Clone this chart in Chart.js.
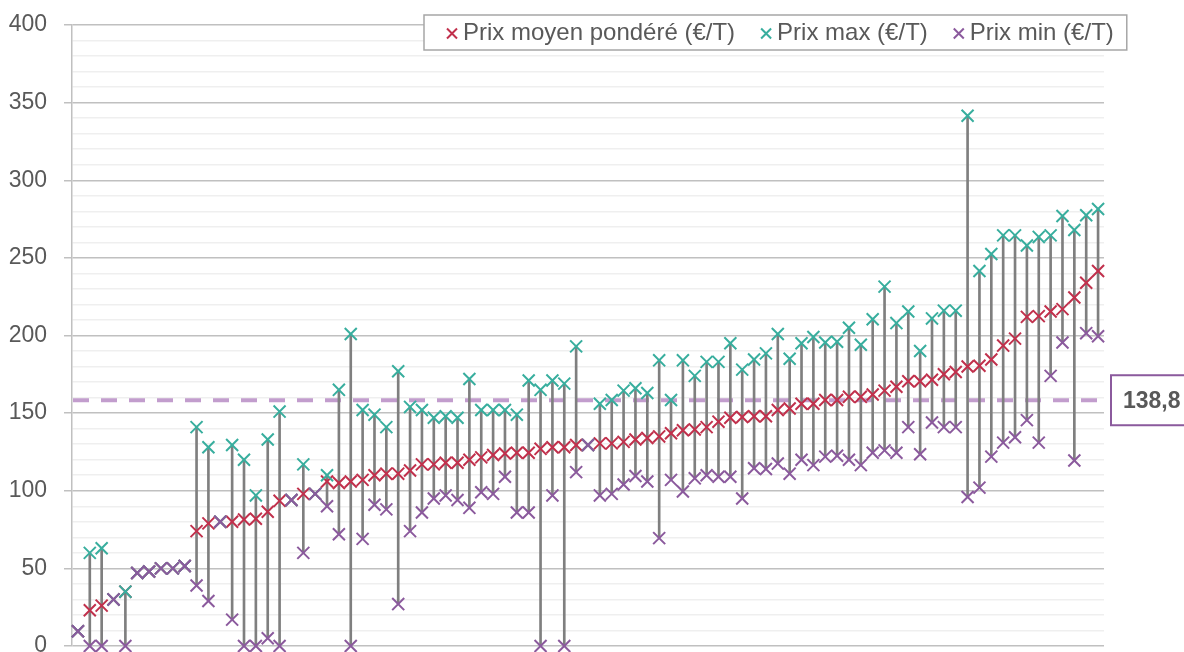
<!DOCTYPE html>
<html lang="fr">
<head>
<meta charset="utf-8">
<title>Prix moyen pondéré, prix max et prix min (€/T)</title>
<script src="https://cdn.jsdelivr.net/npm/chart.js@4.4.1/dist/chart.umd.min.js"></script>
<style>
  html, body { margin: 0; padding: 0; background: #fff; }
  #wrap { position: relative; width: 1184px; height: 652px; }
</style>
</head>
<body>
<div id="wrap"><canvas id="prixChart" width="1184" height="652"></canvas></div>
<script>
// Values, one entry per site (87 sites, sorted by average price)
const avgPrice = [
  9.5, 23, 26, 30, 35, 47, 48, 50, 50, 51.5,
  74, 79, 80, 80, 81.5, 82, 86.5, 93.5, 94, 98,
  98, 106, 105, 106, 107, 110, 111, 111, 113, 117,
  117, 118, 118, 120, 121.5, 123, 124, 124.5, 124.5, 127,
  128, 128, 129.5, 129.5, 130.5, 130.5, 131.5, 133, 134, 135,
  137, 139, 139.5, 141, 144.5, 147, 147.5, 148, 148, 152,
  153, 156, 156, 158.5, 158.5, 160.5, 160.5, 162, 164.5, 167,
  170.5, 170.5, 171.5, 175, 176.5, 180, 180.5, 184.5, 193.5, 198,
  212, 212.5, 215.5, 217, 224.5, 234, 241.5
];
const maxPrice = [
  9.5, 60, 63, 30, 35, 47, 48, 50, 50, 51.5,
  141, 128, 80, 129.5, 120, 97, 133, 151, 94, 117,
  98, 110, 165, 201, 152, 149, 141, 177, 154, 152,
  147, 148, 147, 172, 152, 152, 152, 149, 171, 165,
  171, 169, 193, 129.5, 156, 158.5, 164.5, 166, 163, 184,
  158.5, 184, 174, 183, 183, 195, 178, 184.5, 188.5, 201,
  185, 195, 199, 195.5, 196, 205, 194, 210.5, 231.5, 208,
  215.5, 190, 211, 216, 216, 341.5, 241.5, 252.5, 264.5, 264.5,
  258, 263.5, 264.5, 277, 268, 277.5, 281.5
];
const minPrice = [
  9.5, 0, 0, 30, 0, 47, 48, 50, 50, 51.5,
  39, 29, 80, 17, 0, 0, 5, 0, 94, 60,
  98, 90, 72, 0, 69, 91, 88, 27, 74, 86,
  95, 97, 94, 89, 99, 98, 109, 86, 86, 0,
  97, 0, 112, 129.5, 97, 98, 104, 109.5, 106, 69.5,
  107, 99.5, 108, 110, 109, 109, 95, 114.5, 114, 117.5,
  111, 120, 116.5, 122, 122.5, 120, 116.5, 124.5, 126, 124.5,
  141, 123.5, 144, 141, 141, 96, 102, 122, 131, 134.5,
  145.5, 131, 174, 195.5, 119.5, 201.5, 199.5
];
const categories = avgPrice.map((_, i) => String(i + 1));
const seriesLabels = ['Prix moyen pondéré (€/T)', 'Prix max (€/T)', 'Prix min (€/T)'];
const yTicks = [0, 50, 100, 150, 200, 250, 300, 350, 400];
const refValue = 158.3;
const refLabel = '138,8';

const RED = '#C1304C';
const TEAL = '#38AE9E';
const PURPLE = '#8B5A9D';
const MAJOR = '#C0C0C0';
const MINOR = '#EFEFEF';
const TEXT = '#595959';
const FONT = '"Liberation Sans", Arial, sans-serif';

function drawCross(ctx, x, y, r) {
  ctx.beginPath();
  ctx.moveTo(x - r, y - r); ctx.lineTo(x + r, y + r);
  ctx.moveTo(x + r, y - r); ctx.lineTo(x - r, y + r);
  ctx.stroke();
}

// dashed reference line, under the markers, plus its boxed label
const refLinePlugin = {
  id: 'refLine',
  beforeDatasetsDraw(chart) {
    const { ctx, chartArea } = chart;
    const y = chart.scales.y.getPixelForValue(refValue);
    ctx.save();
    ctx.strokeStyle = '#C29DCD';
    ctx.lineWidth = 4;
    ctx.setLineDash([16, 12]);
    ctx.beginPath();
    ctx.moveTo(chartArea.left + 1, y);
    ctx.lineTo(chartArea.right, y);
    ctx.stroke();
    ctx.restore();
  },
  afterDraw(chart) {
    const { ctx, chartArea } = chart;
    const y = chart.scales.y.getPixelForValue(refValue);
    const bx = chartArea.right + 7;
    ctx.save();
    ctx.fillStyle = '#fff';
    ctx.strokeStyle = PURPLE;
    ctx.lineWidth = 2;
    ctx.fillRect(bx, y - 25, 100, 50);
    ctx.strokeRect(bx, y - 25, 100, 50);
    ctx.fillStyle = TEXT;
    ctx.font = 'bold 23px ' + FONT;
    ctx.textBaseline = 'middle';
    ctx.fillText(refLabel, bx + 12, y + 1);
    ctx.restore();
  }
};

// boxed legend sitting inside the plot, like the original
const boxLegendPlugin = {
  id: 'boxLegend',
  afterDraw(chart) {
    const ctx = chart.ctx;
    const colors = [RED, TEAL, PURPLE];
    const top = 15, h = 35, left = 424;
    const cy = top + h / 2 + 1;
    ctx.save();
    ctx.font = '24px ' + FONT;
    let cx = 452;
    const items = seriesLabels.map((label, i) => {
      const item = { label, color: colors[i], cx };
      cx += 11 + ctx.measureText(label).width + 31;
      return item;
    });
    const right = cx - 31 + 13;
    ctx.fillStyle = '#fff';
    ctx.fillRect(left, top, right - left, h);
    ctx.strokeStyle = '#A6A6A6';
    ctx.lineWidth = 1.5;
    ctx.strokeRect(left, top, right - left, h);
    ctx.textBaseline = 'middle';
    items.forEach(it => {
      ctx.strokeStyle = it.color;
      ctx.lineWidth = 2;
      drawCross(ctx, it.cx, cy, 5);
      ctx.fillStyle = TEXT;
      ctx.fillText(it.label, it.cx + 11, cy);
    });
    ctx.restore();
  }
};

function markerSeries(label, data, color, order) {
  return {
    type: 'line',
    label: label,
    data: data,
    showLine: false,
    pointStyle: 'crossRot',
    pointRadius: 8.5,
    pointBorderWidth: 2,
    borderColor: color,
    pointBorderColor: color,
    clip: false,
    order: order
  };
}

const ctx = document.getElementById('prixChart').getContext('2d');
new Chart(ctx, {
  data: {
    labels: categories,
    datasets: [
      {
        // high-low line between min and max of each site
        type: 'bar',
        label: 'Écart min - max',
        data: minPrice.map((m, i) => [m, maxPrice[i]]),
        backgroundColor: '#7F7F7F',
        barThickness: 2,
        order: 4
      },
      markerSeries(seriesLabels[0], avgPrice, RED, 3),
      markerSeries(seriesLabels[1], maxPrice, TEAL, 2),
      markerSeries(seriesLabels[2], minPrice, PURPLE, 1)
    ]
  },
  options: {
    responsive: false,
    devicePixelRatio: 1,
    animation: false,
    layout: { autoPadding: false, padding: { top: 25, right: 80, bottom: 6, left: 0 } },
    plugins: {
      legend: { display: false },
      tooltip: { enabled: false }
    },
    scales: {
      x: {
        display: false,
        offset: true
      },
      y: {
        min: 0,
        max: 400,
        ticks: {
          stepSize: 10,
          autoSkip: false,
          padding: 17,
          color: TEXT,
          font: { family: FONT, size: 23 },
          callback: v => yTicks.includes(v) ? v : ''
        },
        grid: {
          lineWidth: 1.5,
          tickLength: 8,
          color: c => yTicks.includes(c.tick.value) ? MAJOR : MINOR,
          tickColor: c => yTicks.includes(c.tick.value) ? MAJOR : 'rgba(0,0,0,0)'
        },
        border: { color: MAJOR, width: 1.5 },
        afterFit: s => { s.width = 72; s.paddingTop = 0; s.paddingBottom = 0; }
      }
    }
  },
  plugins: [refLinePlugin, boxLegendPlugin]
});
</script>
</body>
</html>
